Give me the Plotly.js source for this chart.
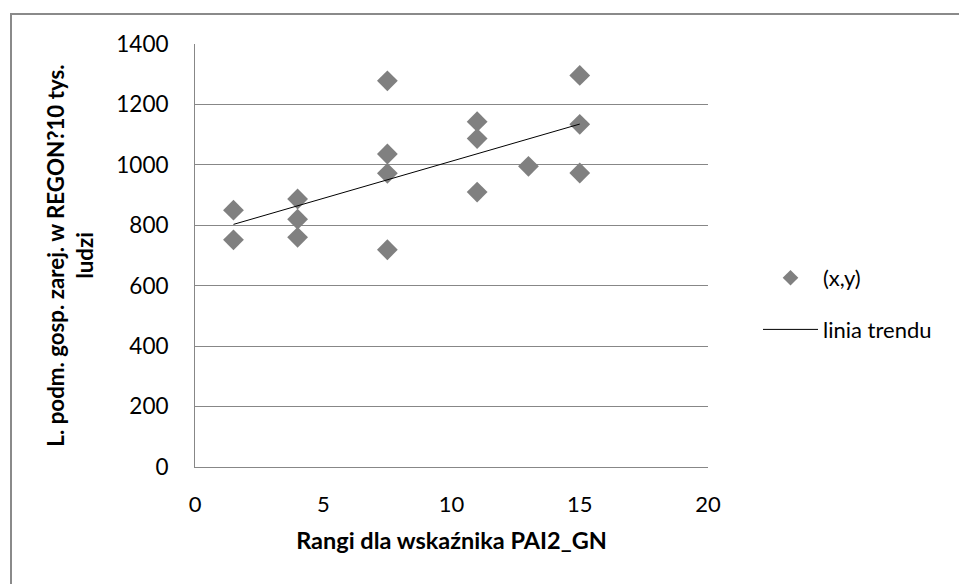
<!DOCTYPE html>
<html>
<head>
<meta charset="utf-8">
<script src="https://cdn.plot.ly/plotly-3.0.1.min.js"></script>
<style>
html,body{margin:0;padding:0;background:#fff;}
#chart{width:959px;height:584px;}
</style>
</head>
<body>
<div id="chart"></div>
<script>
// Data
var rankX = [1.5, 1.5, 4, 4, 4, 7.5, 7.5, 7.5, 7.5, 11, 11, 11, 13, 15, 15, 15];
var firmsY = [850, 752, 887, 820, 760, 1278, 1036, 972, 719, 1143, 1087, 910, 995, 1296, 1134, 973];
var trendX = [1.5, 15];
var trendY = [803, 1135];
var xTicks = [0, 5, 10, 15, 20];
var yTicks = [0, 200, 400, 600, 800, 1000, 1200, 1400];

var W = 959, H = 584;
var L = 195, R = 708, T = 44, B = 467;
function px(p){ return (p - L) / (R - L); }
function py(p){ return (B - p) / (B - T); }

var font = "Lato, 'Open Sans', 'Liberation Sans', sans-serif";
var grid = '#878787';

var traces = [
  {
    x: rankX, y: firmsY, type: 'scatter', mode: 'markers', name: '(x,y)',
    legendgroup: 'a', showlegend: false,
    marker: {symbol: 'diamond', size: 16, color: '#808080'}
  },
  {
    // legend-only entry (smaller legend symbol, as in the reference)
    x: [null], y: [null], type: 'scatter', mode: 'markers', name: '(x,y)',
    legendgroup: 'a', showlegend: true,
    marker: {symbol: 'diamond', size: 12, color: '#808080'}
  },
  {
    x: trendX, y: trendY, type: 'scatter', mode: 'lines', name: 'linia trendu',
    legendgroup: 'b',
    line: {color: '#000000', width: 1}
  }
];

var layout = {
  width: W, height: H,
  margin: {l: L, r: W - R, t: T, b: H - B, pad: 0},
  paper_bgcolor: '#ffffff', plot_bgcolor: '#ffffff',
  font: {family: font, size: 22, color: '#000000'},
  showlegend: true,
  legend: {
    x: px(758), y: py(257), xanchor: 'left', yanchor: 'top',
    font: {family: font, size: 22, color: '#000'},
    traceorder: 'grouped', tracegroupgap: 20,
    itemwidth: 55, bgcolor: 'rgba(0,0,0,0)'
  },
  xaxis: {
    range: [0, 20], tickvals: xTicks, ticktext: xTicks.map(String),
    showgrid: false, zeroline: false, showline: true, linecolor: grid, linewidth: 1,
    ticks: '', ticklabelstandoff: 18,
    tickfont: {family: font, size: 22, color: '#000'},
    title: {text: 'Rangi dla wskaźnika PAI2_GN', standoff: 16,
            font: {family: font, size: 23.5, color: '#000', weight: 'bold'}}
  },
  yaxis: {
    range: [0, 1400], tickvals: yTicks, ticktext: yTicks.map(String),
    showgrid: true, gridcolor: grid, gridwidth: 1,
    zeroline: false, showline: true, linecolor: grid, linewidth: 1,
    ticks: '', ticklabelstandoff: 21,
    tickfont: {family: font, size: 22.5, color: '#000'},
    title: {text: 'L. podm. gosp. zarej. w REGON?10 tys.<br>ludzi', standoff: 16,
            font: {family: font, size: 22.3, color: '#000', weight: 'bold'}}
  },
  shapes: [
    {type: 'path', xref: 'paper', yref: 'paper',
     path: 'M ' + px(11) + ' ' + py(600) + ' L ' + px(11) + ' ' + py(14) + ' L ' + px(970) + ' ' + py(14),
     line: {color: '#8a8a8a', width: 2}}
  ]
};

Plotly.newPlot('chart', traces, layout, {displayModeBar: false, staticPlot: true});
</script>
</body>
</html>
